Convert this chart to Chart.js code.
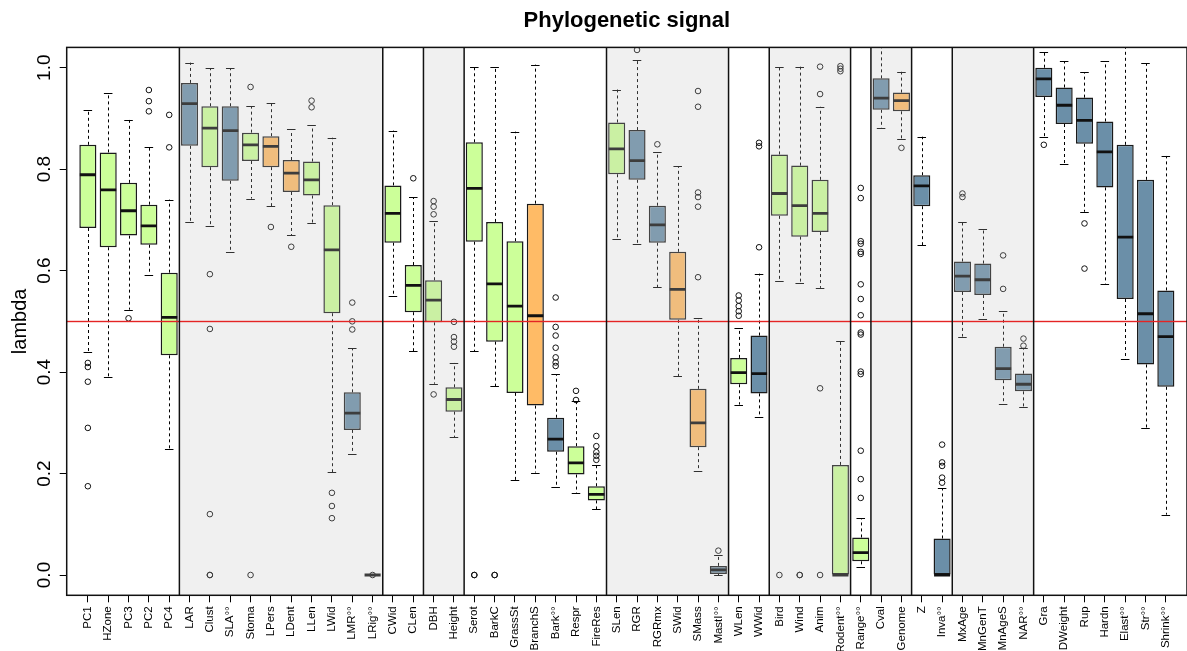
<!DOCTYPE html>
<html>
<head>
<meta charset="utf-8">
<script src="https://cdn.jsdelivr.net/npm/chart.js@4.4.1/dist/chart.umd.min.js"></script>
<style>
  html, body { margin: 0; padding: 0; overflow: hidden; background: #fff; }
  canvas { display: block; }
</style>
</head>
<body>
<canvas id="chart" width="1192" height="651"></canvas>
<script>
// Trait names along the x axis (°° marks traits flagged in the study)
const traits = ['PC1','HZone','PC3','PC2','PC4',
  'LAR','Clust','SLA°°','Stoma','LPers','LDent','LLen','LWid','LMR°°','LRig°°',
  'CWid','CLen',
  'DBH','Height',
  'Serot','BarkC','GrassSt','BranchS','Bark°°','Respr','FireRes',
  'SLen','RGR','RGRmx','SWid','SMass','MastI°°',
  'WLen','WWid',
  'Bird','Wind','Anim','Rodent°°',
  'Range°°',
  'Cval','Genome',
  'Z','Inva°°',
  'MxAge','MnGenT','MnAgeS','NAR°°',
  'Gra','DWeight','Rup','Hardn','Elast°°','Str°°','Shrink°°'];

// Trait class: G = green, O = orange, B = blue boxes
const traitClass = ['G','G','G','G','G',
  'B','G','B','G','O','O','G','G','B','B',
  'G','G',
  'G','G',
  'G','G','G','O','B','G','G',
  'G','B','B','O','O','B',
  'G','B',
  'G','G','G','G',
  'G',
  'B','O',
  'B','B',
  'B','B','B','B',
  'B','B','B','B','B','B','B'];

// Number of traits in each consecutive trait group
const groupSizes = [5, 10, 2, 2, 7, 6, 2, 4, 1, 2, 2, 4, 7];

// Five-number summaries of lambda per trait
const whiskerLow = [0.440,0.391,0.523,0.592,0.248,
  0.696,0.688,0.636,0.742,0.727,0.670,0.693,0.203,0.239,0.000,
  0.550,0.441,
  0.377,0.272,
  0.441,0.372,0.187,0.202,0.174,0.161,0.130,
  0.663,0.652,0.567,0.392,0.206,0.000,
  0.336,0.312,
  0.579,0.576,0.566,0.000,
  0.015,
  0.881,0.860,
  0.650,0.000,
  0.470,0.505,0.337,0.331,
  0.863,0.810,0.716,0.574,0.425,0.290,0.119];

const quartile1 = [0.684,0.646,0.669,0.651,0.433,
  0.846,0.804,0.777,0.816,0.804,0.755,0.748,0.516,0.286,0.000,
  0.655,0.518,
  0.498,0.322,
  0.657,0.460,0.359,0.334,0.243,0.198,0.147,
  0.790,0.779,0.655,0.503,0.252,0.002,
  0.376,0.358,
  0.708,0.667,0.676,0.000,
  0.027,
  0.917,0.914,
  0.727,0.000,
  0.558,0.552,0.384,0.362,
  0.942,0.889,0.850,0.764,0.544,0.415,0.371];

const medians = [0.789,0.759,0.718,0.688,0.508,
  0.929,0.881,0.876,0.848,0.845,0.792,0.779,0.641,0.319,0.000,
  0.713,0.571,
  0.542,0.346,
  0.762,0.574,0.530,0.511,0.268,0.221,0.159,
  0.840,0.817,0.690,0.563,0.300,0.010,
  0.399,0.397,
  0.752,0.728,0.713,0.000,
  0.044,
  0.940,0.935,
  0.767,0.000,
  0.589,0.582,0.407,0.376,
  0.978,0.926,0.896,0.834,0.666,0.515,0.470];

const quartile3 = [0.848,0.833,0.773,0.730,0.596,
  0.970,0.924,0.924,0.872,0.865,0.818,0.815,0.729,0.360,0.000,
  0.768,0.611,
  0.581,0.370,
  0.853,0.696,0.658,0.732,0.310,0.254,0.175,
  0.892,0.877,0.728,0.637,0.367,0.018,
  0.428,0.472,
  0.829,0.807,0.779,0.217,
  0.074,
  0.979,0.951,
  0.788,0.072,
  0.618,0.614,0.450,0.397,
  1.000,0.961,0.941,0.894,0.848,0.779,0.561];

const whiskerHigh = [0.916,0.951,0.897,0.843,0.740,
  1.010,0.999,0.999,0.924,0.931,0.879,0.887,0.862,0.447,0.000,
  0.876,0.745,
  0.697,0.418,
  1.002,1.002,0.874,1.006,0.396,0.343,0.217,
  0.957,1.016,0.834,0.806,0.507,0.040,
  0.487,0.594,
  1.002,1.002,0.923,0.461,
  0.112,
  1.045,0.992,
  0.864,0.171,
  0.696,0.683,0.520,0.448,
  1.030,1.013,0.991,1.013,1.070,1.009,0.826];

// Values beyond the whiskers, per trait
const outliers = [
  [0.418,0.410,0.381,0.290,0.175], [], [0.506], [0.956,0.934,0.914], [0.907,0.843],
  [], [0.593,0.485,0.120,0.000,0.000], [], [0.962,0.000], [0.686], [0.647], [0.935,0.922],
  [0.162,0.136,0.112], [0.537,0.500,0.484], [0.000],
  [], [0.782],
  [0.737,0.726,0.711,0.356], [0.499,0.469,0.460,0.450],
  [0.000,0.000], [0.000,0.000], [], [], [0.547,0.489,0.472,0.448,0.429,0.419,0.412],
  [0.363,0.345], [0.274,0.254,0.242,0.235,0.227],
  [], [1.035], [0.849], [], [0.954,0.923,0.754,0.745,0.726,0.587], [0.048],
  [0.551,0.541,0.530,0.520,0.511], [0.852,0.845,0.646],
  [0.000], [0.000,0.000], [1.002,0.948,0.368,0.000], [1.003,0.998,0.993],
  [0.763,0.743,0.658,0.653,0.637,0.633,0.573,0.544,0.512,0.478,0.474,0.401,0.396,0.245,0.189,0.152],
  [], [0.842],
  [], [0.257,0.222,0.215,0.192,0.182],
  [0.752,0.745], [], [0.630,0.564], [0.466,0.452],
  [0.848], [], [0.693,0.604], [], [], [], []
];

const yTickValues = [0.0, 0.2, 0.4, 0.6, 0.8, 1.0];
const referenceLambda = 0.5;

// ---- styling ----
const FONT = "'Liberation Sans', Arial, Helvetica, sans-serif";
Chart.defaults.font.family = FONT;
Chart.defaults.color = '#000';

const palette = { G: '#ccff99', O: '#ffbb66', B: '#6b8fa8' };
const BOX_WEX = 0.84;     // box width in category units
const STAPLE_WEX = 0.42;  // whisker cap width in category units

// Group boundaries in category units, shaded on every second group
function groupSpans() {
  const spans = [];
  let start = 0;
  groupSizes.forEach((n, g) => {
    spans.push({ from: start - 0.5, to: start + n - 0.5, shaded: g % 2 === 1 });
    start += n;
  });
  return spans;
}

const boxPlotParts = {
  id: 'boxPlotParts',
  afterDatasetsDraw(chart) {
    const { ctx, chartArea: a, scales: { x, y } } = chart;
    ctx.save();
    ctx.beginPath();
    ctx.rect(a.left, a.top, a.right - a.left, a.bottom - a.top);
    ctx.clip();

    // whiskers, caps and medians
    traits.forEach((t, i) => {
      const cx = Math.round(x.getPixelForValue(i)) + 0.5;
      const capL = x.getPixelForValue(i - STAPLE_WEX / 2);
      const capR = x.getPixelForValue(i + STAPLE_WEX / 2);
      const boxL = x.getPixelForValue(i - BOX_WEX / 2);
      const boxR = x.getPixelForValue(i + BOX_WEX / 2);
      ctx.strokeStyle = '#000';
      ctx.lineWidth = 1;
      ctx.setLineDash([3, 3]);
      ctx.beginPath();
      if (whiskerHigh[i] > quartile3[i]) {
        ctx.moveTo(cx, y.getPixelForValue(quartile3[i]));
        ctx.lineTo(cx, y.getPixelForValue(whiskerHigh[i]));
      }
      if (whiskerLow[i] < quartile1[i]) {
        ctx.moveTo(cx, y.getPixelForValue(quartile1[i]));
        ctx.lineTo(cx, y.getPixelForValue(whiskerLow[i]));
      }
      ctx.stroke();
      ctx.setLineDash([]);
      ctx.beginPath();
      [whiskerHigh[i], whiskerLow[i]].forEach(v => {
        const py = Math.round(y.getPixelForValue(v)) + 0.5;
        ctx.moveTo(capL, py);
        ctx.lineTo(capR, py);
      });
      ctx.stroke();
      ctx.lineWidth = 2.8;
      ctx.lineCap = 'butt';
      ctx.strokeStyle = '#111';
      ctx.beginPath();
      const my = y.getPixelForValue(medians[i]);
      ctx.moveTo(boxL + 0.5, my);
      ctx.lineTo(boxR - 0.5, my);
      ctx.stroke();
    });

    // translucent shading over alternate trait groups
    const spans = groupSpans();
    ctx.fillStyle = 'rgba(195,195,195,0.25)';
    spans.forEach(s => {
      if (!s.shaded) return;
      const l = x.getPixelForValue(s.from);
      const r = x.getPixelForValue(s.to);
      ctx.fillRect(l, a.top, r - l, a.bottom - a.top);
    });

    // reference line at lambda = 0.5
    const ry = Math.round(y.getPixelForValue(referenceLambda));
    ctx.fillStyle = '#e42424';
    ctx.fillRect(a.left, ry - 0.2, a.right - a.left, 1.4);

    // group separators
    ctx.strokeStyle = '#111';
    ctx.lineWidth = 1.5;
    ctx.beginPath();
    spans.slice(1).forEach(s => {
      const px = x.getPixelForValue(s.from);
      ctx.moveTo(px, a.top);
      ctx.lineTo(px, a.bottom);
    });
    ctx.stroke();
    ctx.restore();

    // plot frame
    ctx.save();
    ctx.strokeStyle = '#111';
    ctx.lineWidth = 1.5;
    ctx.strokeRect(a.left, a.top, a.right - a.left, a.bottom - a.top);
    ctx.restore();
  }
};

const boxData = traits.map((t, i) => ({ x: i, y: [quartile1[i], quartile3[i]] }));
const outlierData = [];
outliers.forEach((vals, i) => vals.forEach(v => outlierData.push({ x: i, y: v })));

new Chart(document.getElementById('chart'), {
  type: 'bar',
  data: {
    datasets: [
      {
        type: 'scatter',
        data: outlierData,
        pointStyle: 'circle',
        pointRadius: 2.8,
        pointBackgroundColor: 'rgba(0,0,0,0)',
        pointBorderColor: '#111',
        pointBorderWidth: 1,
        clip: 0
      },
      {
        type: 'bar',
        data: boxData,
        backgroundColor: traitClass.map(k => palette[k]),
        borderColor: '#1a1a1a',
        borderWidth: 1.5,
        borderSkipped: false,
        categoryPercentage: 1,
        barPercentage: BOX_WEX
      }
    ]
  },
  options: {
    responsive: false,
    animation: false,
    events: [],
    layout: { padding: 0 },
    plugins: {
      legend: { display: false },
      tooltip: { enabled: false },
      title: {
        display: true,
        text: 'Phylogenetic signal',
        fullSize: false,
        color: '#000',
        font: { size: 22, weight: 'bold', family: FONT },
        padding: { top: 8, bottom: 13 }
      }
    },
    scales: {
      x: {
        type: 'linear',
        min: -1.04,
        max: traits.length - 1 + 1.04,
        offset: false,
        grid: { display: true, offset: false, drawOnChartArea: false, drawTicks: true, tickLength: 7, color: '#000', lineWidth: 1 },
        border: { display: false },
        afterBuildTicks: s => { s.ticks = traits.map((t, i) => ({ value: i })); },
        afterFit: s => { s.height = 651 - 595.3; },
        ticks: {
          autoSkip: false,
          minRotation: 90,
          maxRotation: 90,
          padding: 4,
          color: '#000',
          font: { size: 11.5, family: FONT },
          callback: v => traits[v]
        }
      },
      y: {
        type: 'linear',
        min: -0.04,
        max: 1.04,
        beginAtZero: false,
        grid: { display: true, drawOnChartArea: false, drawTicks: true, tickLength: 7, color: '#000', lineWidth: 1 },
        border: { display: false },
        afterBuildTicks: s => { s.ticks = yTickValues.map(v => ({ value: v })); },
        afterFit: s => { s.width = 66.7; },
        ticks: {
          minRotation: 90,
          maxRotation: 90,
          crossAlign: 'center',
          padding: 2,
          color: '#000',
          font: { size: 19, family: FONT },
          callback: v => Number(v).toFixed(1)
        },
        title: {
          display: true,
          text: 'lambda',
          color: '#000',
          font: { size: 20, family: FONT },
          padding: { top: 8, bottom: 0 }
        }
      }
    }
  },
  plugins: [boxPlotParts]
});
</script>
</body>
</html>
